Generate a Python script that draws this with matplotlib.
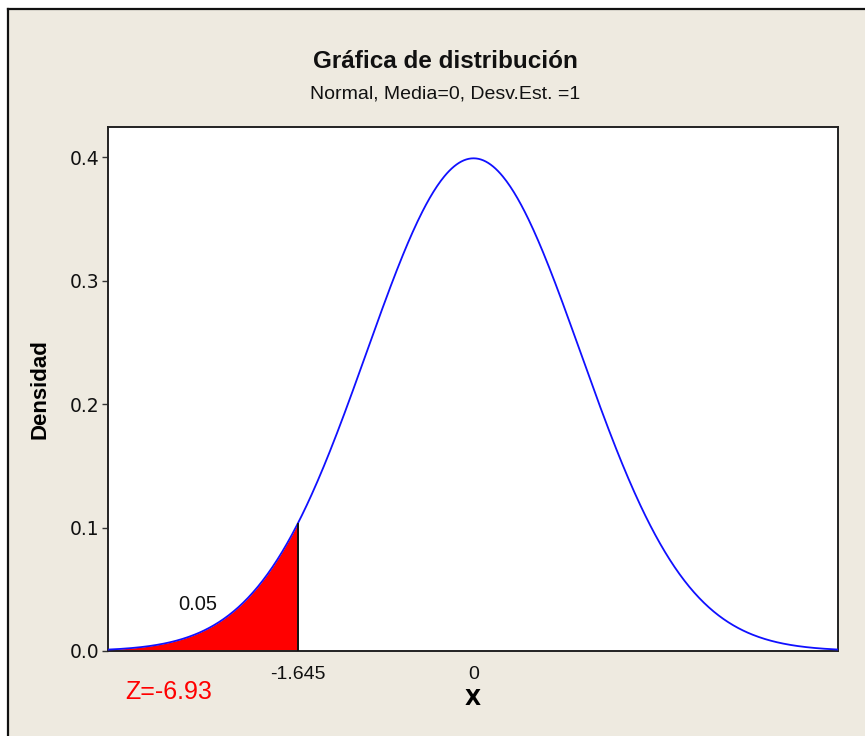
import numpy as np
import matplotlib.pyplot as plt
from matplotlib.patches import Rectangle
from matplotlib.lines import Line2D

# distribution parameters and the shaded lower tail
mu = 0.0
sigma = 1.0
x_crit = -1.645
tail_area = 0.05
z_value = -6.93
x_ticks = [-1.645, 0]
x_tick_labels = ['-1.645', '0']
y_ticks = [0.0, 0.1, 0.2, 0.3, 0.4]
y_tick_labels = ['0.0', '0.1', '0.2', '0.3', '0.4']

BG = '#EEEAE0'
NARROW = ['Liberation Sans', 'DejaVu Sans']
TICKFONT = ['DejaVu Sans']


def pdf(x):
    return np.exp(-0.5 * ((x - mu) / sigma) ** 2) / (sigma * np.sqrt(2 * np.pi))


fig = plt.figure(figsize=(8.65, 7.36), dpi=100, facecolor='white')

# beige panel with its dark frame
fig.patches.append(Rectangle((8 / 865, 0), 1, 1 - 9 / 736, transform=fig.transFigure,
                             facecolor=BG, edgecolor='none', zorder=-5))
fig.add_artist(Line2D([8 / 865, 8 / 865], [0, 1 - 9 / 736], transform=fig.transFigure,
                      color='#111111', lw=1.6))
fig.add_artist(Line2D([8 / 865, 1], [1 - 9 / 736, 1 - 9 / 736], transform=fig.transFigure,
                      color='#111111', lw=1.6))

ax = fig.add_axes([108 / 865, 1 - 651 / 736, 730 / 865, 524 / 736])
ax.set_facecolor('white')

xmin, xmax = -3.42, 3.41
xs = np.linspace(xmin, xmax, 600)
ys = pdf(xs)

xt = np.linspace(xmin, x_crit, 300)
ax.fill_between(xt, 0, pdf(xt), color='#FF0000', lw=0, zorder=2)
ax.plot(xs, ys, color='#1010FF', lw=1.3, zorder=3)
ax.plot([x_crit, x_crit], [0, pdf(x_crit)], color='#111111', lw=1.4, zorder=4)

ax.set_xlim(xmin, xmax)
ax.set_ylim(0, 0.4243)

for s in ax.spines.values():
    s.set_color('#222222')
    s.set_linewidth(1.4)

ax.set_yticks(y_ticks)
ax.set_yticklabels(y_tick_labels, family=TICKFONT, fontsize=13.5, color='#111111')
ax.tick_params(axis='y', length=4, width=1, color='#333333', pad=2)
ax.set_xticks(x_ticks)
ax.set_xticklabels(x_tick_labels, family=NARROW, fontsize=14, color='#111111')
ax.tick_params(axis='x', length=0, pad=11)

ax.set_xlabel('X', fontsize=15, fontweight='bold', family=TICKFONT, labelpad=4)
ax.set_ylabel('Densidad', fontsize=16, fontweight='bold', family=NARROW, labelpad=14)

fig.text(445 / 865, 1 - 61 / 736, 'Gráfica de distribución', ha='center', va='center',
         fontsize=17.5, fontweight='bold', family=NARROW, color='#111111')
fig.text(445 / 865, 1 - 94 / 736, 'Normal, Media=0, Desv.Est. =1', ha='center', va='center',
         fontsize=14, family=NARROW, color='#111111')

ax.text(-2.58, 0.038, f'{tail_area:.2f}', ha='center', va='center', fontsize=14.5,
        family=NARROW, color='#111111')
ax.text(-3.26, -0.033, f'Z={z_value:.2f}', ha='left', va='center', fontsize=18,
        family=['Liberation Sans', 'DejaVu Sans'], color='#FF0000', clip_on=False)

fig.savefig('out.png', dpi=100, facecolor=fig.get_facecolor())
